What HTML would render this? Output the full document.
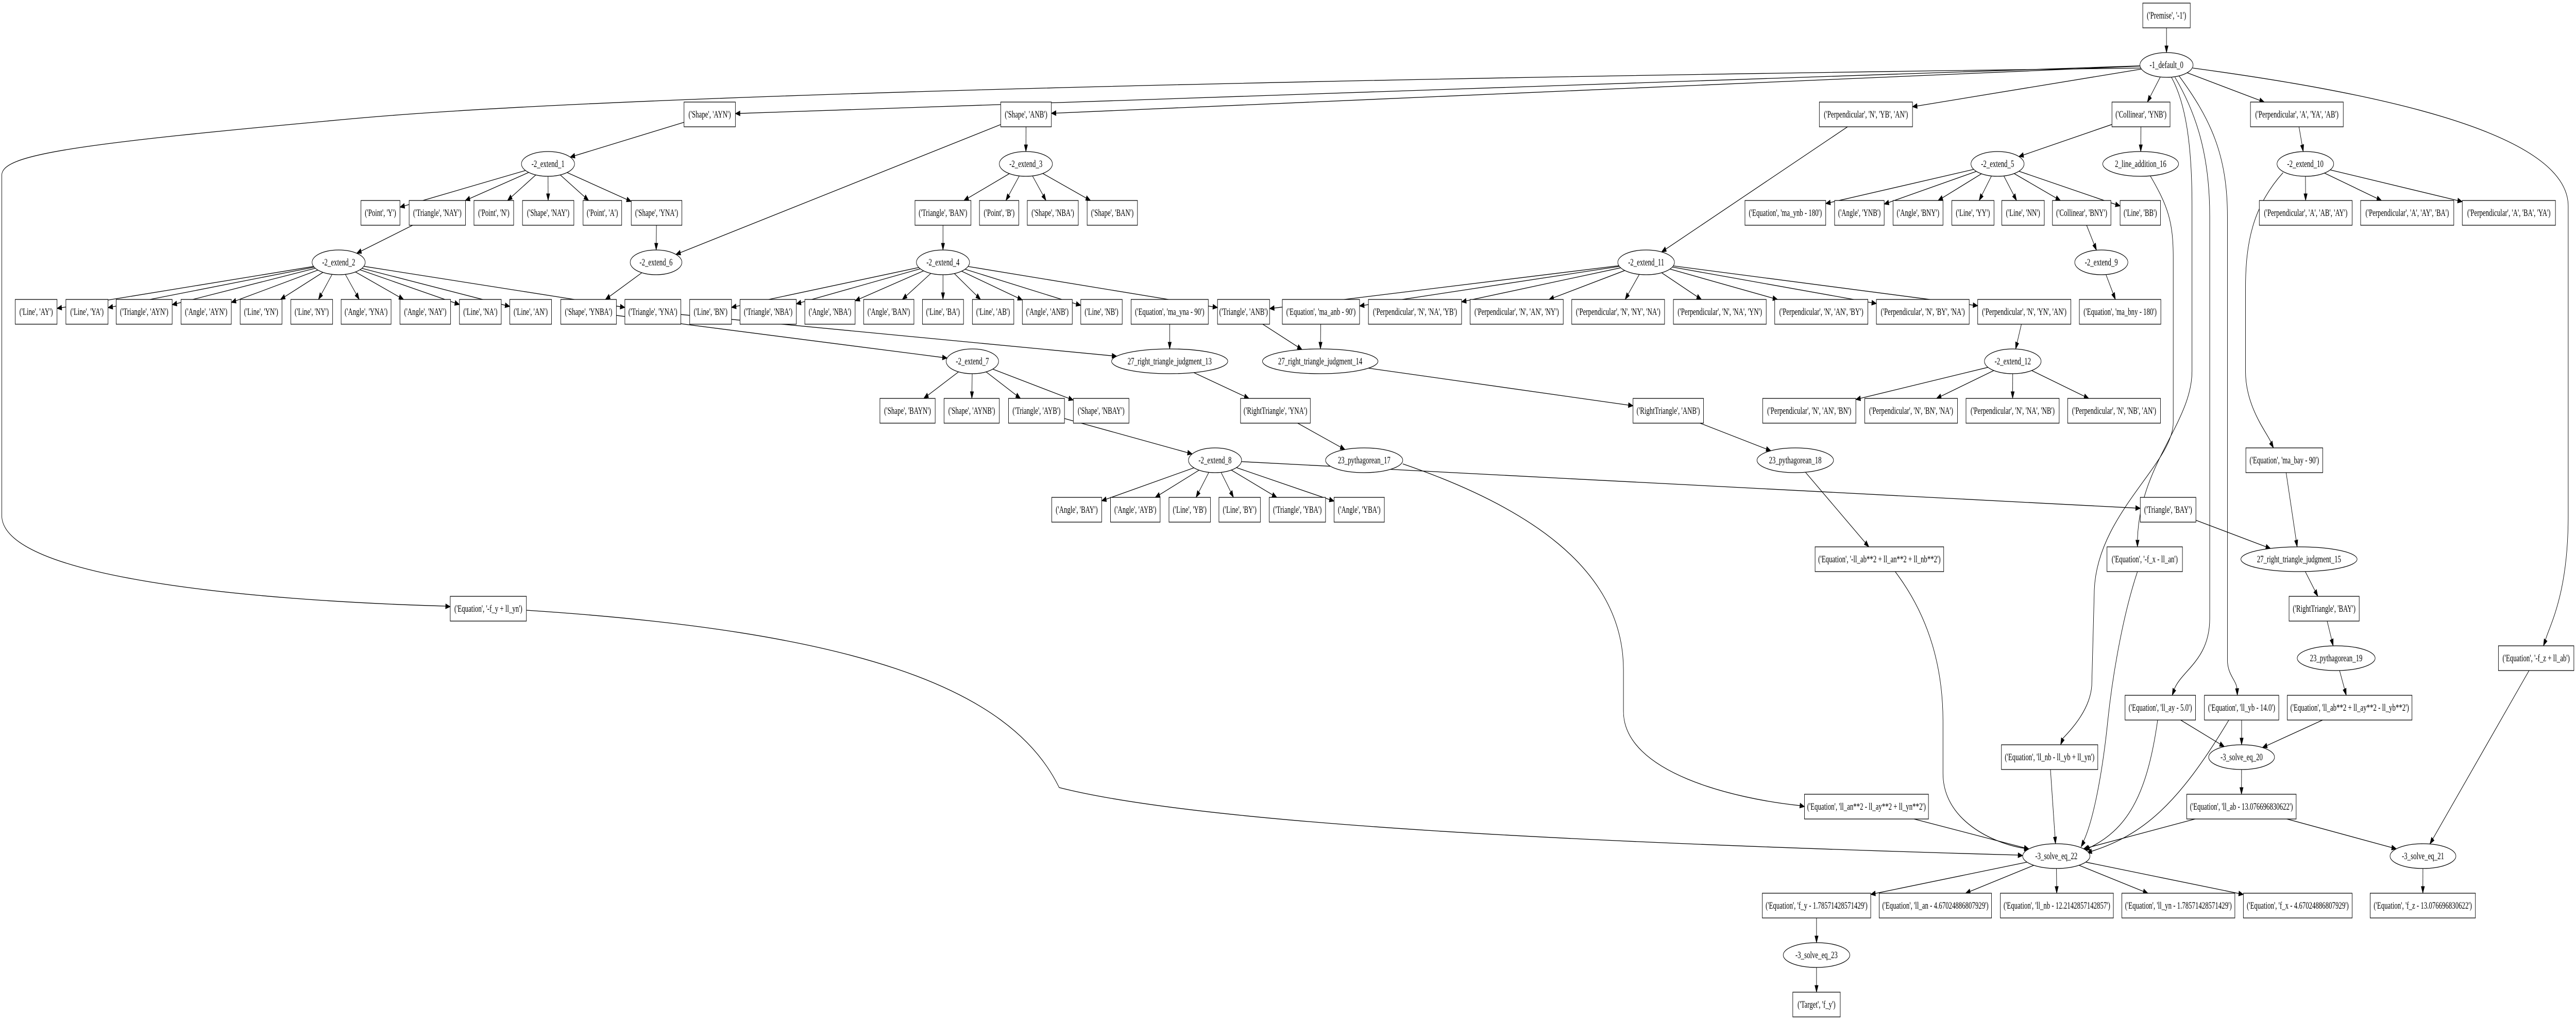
<!DOCTYPE html>
<html><head><meta charset="utf-8"><style>
html,body{margin:0;padding:0;background:#fff;overflow:hidden;width:100vw;height:100vh;}
svg{display:block;width:100vw;height:100vh;}
text{font-family:"Liberation Serif",serif;font-size:18.67px;text-anchor:middle;fill:#000;}
rect,ellipse{fill:#fff;stroke:#000;stroke-width:1.3;}
.e{fill:none;stroke:#000;stroke-width:1.3;}
</style></head><body>
<svg id="s" viewBox="0 0 7272 1979" preserveAspectRatio="none" xmlns="http://www.w3.org/2000/svg">
<rect x="0" y="0" width="7272" height="1979" style="stroke:none"/>
<g id="edges"></g>
<g id="nodes">
<g id="prem"><rect x="6049" y="6" width="134" height="48"/><text x="6116" y="36">('Premise', '-1')</text></g>
<g id="d0"><ellipse cx="6116" cy="126" rx="75" ry="24"/><text x="6116" y="132">-1_default_0</text></g>

<g id="sAYN"><rect x="1931" y="198" width="145" height="48"/><text x="2003.5" y="228">('Shape', 'AYN')</text></g>
<g id="sANB"><rect x="2825" y="198" width="143" height="48"/><text x="2896.5" y="228">('Shape', 'ANB')</text></g>
<g id="pNYBAN"><rect x="5136" y="198" width="263" height="48"/><text x="5267.5" y="228">('Perpendicular', 'N', 'YB', 'AN')</text></g>
<g id="colYNB"><rect x="5962" y="198" width="164" height="48"/><text x="6044" y="228">('Collinear', 'YNB')</text></g>
<g id="pAYAAB"><rect x="6353" y="198" width="262" height="48"/><text x="6484" y="228">('Perpendicular', 'A', 'YA', 'AB')</text></g>

<g id="e1"><ellipse cx="1547" cy="318" rx="75" ry="24"/><text x="1547" y="324">-2_extend_1</text></g>
<g id="e3"><ellipse cx="2896" cy="318" rx="75" ry="24"/><text x="2896" y="324">-2_extend_3</text></g>
<g id="e5"><ellipse cx="5639" cy="318" rx="75" ry="24"/><text x="5639" y="324">-2_extend_5</text></g>
<g id="la16"><ellipse cx="6043" cy="318" rx="107" ry="24"/><text x="6043" y="324">2_line_addition_16</text></g>
<g id="e10"><ellipse cx="6508" cy="318" rx="80" ry="24"/><text x="6508" y="324">-2_extend_10</text></g>

<g id="pY"><rect x="1019" y="389" width="110" height="48"/><text x="1074" y="419">('Point', 'Y')</text></g>
<g id="tNAY"><rect x="1155" y="389" width="159" height="48"/><text x="1234.5" y="419">('Triangle', 'NAY')</text></g>
<g id="pN"><rect x="1338" y="389" width="112" height="48"/><text x="1394" y="419">('Point', 'N')</text></g>
<g id="sNAY"><rect x="1475" y="389" width="145" height="48"/><text x="1547.5" y="419">('Shape', 'NAY')</text></g>
<g id="pA"><rect x="1646" y="389" width="109" height="48"/><text x="1700.5" y="419">('Point', 'A')</text></g>
<g id="sYNA"><rect x="1782" y="389" width="143" height="48"/><text x="1853.5" y="419">('Shape', 'YNA')</text></g>
<g id="tBAN"><rect x="2583" y="389" width="158" height="48"/><text x="2662" y="419">('Triangle', 'BAN')</text></g>
<g id="pB"><rect x="2765" y="389" width="111" height="48"/><text x="2820.5" y="419">('Point', 'B')</text></g>
<g id="sNBA"><rect x="2900" y="389" width="144" height="48"/><text x="2972" y="419">('Shape', 'NBA')</text></g>
<g id="sBAN"><rect x="3069" y="389" width="142" height="48"/><text x="3140" y="419">('Shape', 'BAN')</text></g>
<g id="eqYNB"><rect x="4926" y="389" width="228" height="48"/><text x="5040" y="419">('Equation', 'ma_ynb - 180')</text></g>
<g id="aYNB"><rect x="5179" y="389" width="140" height="48"/><text x="5249" y="419">('Angle', 'YNB')</text></g>
<g id="aBNY"><rect x="5344" y="389" width="141" height="48"/><text x="5414.5" y="419">('Angle', 'BNY')</text></g>
<g id="lYY"><rect x="5510" y="389" width="119" height="48"/><text x="5569.5" y="419">('Line', 'YY')</text></g>
<g id="lNN"><rect x="5651" y="389" width="120" height="48"/><text x="5711" y="419">('Line', 'NN')</text></g>
<g id="cBNY"><rect x="5794" y="389" width="165" height="48"/><text x="5876.5" y="419">('Collinear', 'BNY')</text></g>
<g id="lBB"><rect x="5985" y="389" width="114" height="48"/><text x="6042" y="419">('Line', 'BB')</text></g>
<g id="pAABAY"><rect x="6378" y="389" width="262" height="48"/><text x="6509" y="419">('Perpendicular', 'A', 'AB', 'AY')</text></g>
<g id="pAAYBA"><rect x="6664" y="389" width="263" height="48"/><text x="6795.5" y="419">('Perpendicular', 'A', 'AY', 'BA')</text></g>
<g id="pABAYA"><rect x="6951" y="389" width="263" height="48"/><text x="7082.5" y="419">('Perpendicular', 'A', 'BA', 'YA')</text></g>

<g id="e2"><ellipse cx="956" cy="509" rx="75" ry="24"/><text x="956" y="515">-2_extend_2</text></g>
<g id="e6"><ellipse cx="1852" cy="509" rx="73" ry="24"/><text x="1852" y="515">-2_extend_6</text></g>
<g id="e4"><ellipse cx="2662" cy="509" rx="75" ry="24"/><text x="2662" y="515">-2_extend_4</text></g>
<g id="e11"><ellipse cx="4647" cy="509" rx="80" ry="24"/><text x="4647" y="515">-2_extend_11</text></g>
<g id="e9"><ellipse cx="5932" cy="509" rx="75" ry="24"/><text x="5932" y="515">-2_extend_9</text></g>

<g id="lAY"><rect x="43" y="581" width="118" height="48"/><text x="102" y="611">('Line', 'AY')</text></g>
<g id="lYA"><rect x="186" y="581" width="119" height="48"/><text x="245.5" y="611">('Line', 'YA')</text></g>
<g id="tAYN"><rect x="328" y="581" width="158" height="48"/><text x="407" y="611">('Triangle', 'AYN')</text></g>
<g id="aAYN"><rect x="511" y="581" width="142" height="48"/><text x="582" y="611">('Angle', 'AYN')</text></g>
<g id="lYN"><rect x="678" y="581" width="118" height="48"/><text x="737" y="611">('Line', 'YN')</text></g>
<g id="lNY"><rect x="821" y="581" width="118" height="48"/><text x="880" y="611">('Line', 'NY')</text></g>
<g id="aYNA"><rect x="963" y="581" width="141" height="48"/><text x="1033.5" y="611">('Angle', 'YNA')</text></g>
<g id="aNAY"><rect x="1129" y="581" width="143" height="48"/><text x="1200.5" y="611">('Angle', 'NAY')</text></g>
<g id="lNA"><rect x="1297" y="581" width="118" height="48"/><text x="1356" y="611">('Line', 'NA')</text></g>
<g id="lAN"><rect x="1439" y="581" width="118" height="48"/><text x="1498" y="611">('Line', 'AN')</text></g>
<g id="sYNBA"><rect x="1583" y="581" width="157" height="48"/><text x="1661.5" y="611">('Shape', 'YNBA')</text></g>
<g id="tYNA"><rect x="1764" y="581" width="158" height="48"/><text x="1843" y="611">('Triangle', 'YNA')</text></g>
<g id="lBN"><rect x="1947" y="581" width="118" height="48"/><text x="2006" y="611">('Line', 'BN')</text></g>
<g id="tNBA"><rect x="2089" y="581" width="159" height="48"/><text x="2168.5" y="611">('Triangle', 'NBA')</text></g>
<g id="aNBA"><rect x="2272" y="581" width="142" height="48"/><text x="2343" y="611">('Angle', 'NBA')</text></g>
<g id="aBAN"><rect x="2438" y="581" width="142" height="48"/><text x="2509" y="611">('Angle', 'BAN')</text></g>
<g id="lBA"><rect x="2604" y="581" width="116" height="48"/><text x="2662" y="611">('Line', 'BA')</text></g>
<g id="lAB"><rect x="2745" y="581" width="117" height="48"/><text x="2803.5" y="611">('Line', 'AB')</text></g>
<g id="aANB"><rect x="2886" y="581" width="141" height="48"/><text x="2956.5" y="611">('Angle', 'ANB')</text></g>
<g id="lNB"><rect x="3051" y="581" width="117" height="48"/><text x="3109.5" y="611">('Line', 'NB')</text></g>
<g id="eqYNA"><rect x="3193" y="581" width="218" height="48"/><text x="3302" y="611">('Equation', 'ma_yna - 90')</text></g>
<g id="tANB"><rect x="3437" y="581" width="147" height="48"/><text x="3510.5" y="611">('Triangle', 'ANB')</text></g>
<g id="eqANB"><rect x="3620" y="581" width="218" height="48"/><text x="3729" y="611">('Equation', 'ma_anb - 90')</text></g>
<g id="p1"><rect x="3863" y="581" width="263" height="48"/><text x="3994.5" y="611">('Perpendicular', 'N', 'NA', 'YB')</text></g>
<g id="p2"><rect x="4150" y="581" width="263" height="48"/><text x="4281.5" y="611">('Perpendicular', 'N', 'AN', 'NY')</text></g>
<g id="p3"><rect x="4437" y="581" width="262" height="48"/><text x="4568" y="611">('Perpendicular', 'N', 'NY', 'NA')</text></g>
<g id="p4"><rect x="4724" y="581" width="262" height="48"/><text x="4855" y="611">('Perpendicular', 'N', 'NA', 'YN')</text></g>
<g id="p5"><rect x="5010" y="581" width="263" height="48"/><text x="5141.5" y="611">('Perpendicular', 'N', 'AN', 'BY')</text></g>
<g id="p6"><rect x="5297" y="581" width="262" height="48"/><text x="5428" y="611">('Perpendicular', 'N', 'BY', 'NA')</text></g>
<g id="p7"><rect x="5583" y="581" width="263" height="48"/><text x="5714.5" y="611">('Perpendicular', 'N', 'YN', 'AN')</text></g>
<g id="eqBNY"><rect x="5870" y="581" width="230" height="48"/><text x="5985" y="611">('Equation', 'ma_bny - 180')</text></g>

<g id="e7"><ellipse cx="2745" cy="701" rx="74" ry="24"/><text x="2745" y="707">-2_extend_7</text></g>
<g id="rtj13"><ellipse cx="3302" cy="701" rx="164" ry="24"/><text x="3302" y="707">27_right_triangle_judgment_13</text></g>
<g id="rtj14"><ellipse cx="3727" cy="701" rx="163" ry="24"/><text x="3727" y="707">27_right_triangle_judgment_14</text></g>
<g id="e12"><ellipse cx="5682" cy="701" rx="80" ry="24"/><text x="5682" y="707">-2_extend_12</text></g>

<g id="sBAYN"><rect x="2484" y="773" width="156" height="48"/><text x="2562" y="803">('Shape', 'BAYN')</text></g>
<g id="sAYNB"><rect x="2665" y="773" width="156" height="48"/><text x="2743" y="803">('Shape', 'AYNB')</text></g>
<g id="tAYB"><rect x="2847" y="773" width="158" height="48"/><text x="2926" y="803">('Triangle', 'AYB')</text></g>
<g id="sNBAY"><rect x="3030" y="773" width="157" height="48"/><text x="3108.5" y="803">('Shape', 'NBAY')</text></g>
<g id="rtYNA"><rect x="3502" y="773" width="197" height="48"/><text x="3600.5" y="803">('RightTriangle', 'YNA')</text></g>
<g id="rtANB"><rect x="4610" y="773" width="199" height="48"/><text x="4709.5" y="803">('RightTriangle', 'ANB')</text></g>
<g id="q1"><rect x="4976" y="773" width="263" height="48"/><text x="5107.5" y="803">('Perpendicular', 'N', 'AN', 'BN')</text></g>
<g id="q2"><rect x="5264" y="773" width="262" height="48"/><text x="5395" y="803">('Perpendicular', 'N', 'BN', 'NA')</text></g>
<g id="q3"><rect x="5550" y="773" width="263" height="48"/><text x="5681.5" y="803">('Perpendicular', 'N', 'NA', 'NB')</text></g>
<g id="q4"><rect x="5837" y="773" width="262" height="48"/><text x="5968" y="803">('Perpendicular', 'N', 'NB', 'AN')</text></g>

<g id="e8"><ellipse cx="3430" cy="893" rx="75" ry="24"/><text x="3430" y="899">-2_extend_8</text></g>
<g id="py17"><ellipse cx="3851" cy="893" rx="109" ry="24"/><text x="3851" y="899">23_pythagorean_17</text></g>
<g id="py18"><ellipse cx="5068" cy="893" rx="108" ry="24"/><text x="5068" y="899">23_pythagorean_18</text></g>
<g id="eqBAY"><rect x="6340" y="869" width="217" height="48"/><text x="6448.5" y="899">('Equation', 'ma_bay - 90')</text></g>

<g id="aBAY"><rect x="2969" y="965" width="141" height="48"/><text x="3039.5" y="995">('Angle', 'BAY')</text></g>
<g id="aAYB"><rect x="3135" y="965" width="140" height="48"/><text x="3205" y="995">('Angle', 'AYB')</text></g>
<g id="lYB"><rect x="3300" y="965" width="117" height="48"/><text x="3358.5" y="995">('Line', 'YB')</text></g>
<g id="lBY"><rect x="3441" y="965" width="117" height="48"/><text x="3499.5" y="995">('Line', 'BY')</text></g>
<g id="tYBA"><rect x="3583" y="965" width="159" height="48"/><text x="3662.5" y="995">('Triangle', 'YBA')</text></g>
<g id="aYBA"><rect x="3766" y="965" width="142" height="48"/><text x="3837" y="995">('Angle', 'YBA')</text></g>
<g id="tBAY"><rect x="6042" y="965" width="157" height="48"/><text x="6120.5" y="995">('Triangle', 'BAY')</text></g>

<g id="eqAB2"><rect x="5124" y="1061" width="363" height="48"/><text x="5305.5" y="1091">('Equation', '-ll_ab**2 + ll_an**2 + ll_nb**2')</text></g>
<g id="eqFX"><rect x="5948" y="1061" width="213" height="48"/><text x="6054.5" y="1091">('Equation', '-f_x - ll_an')</text></g>
<g id="rtj15"><ellipse cx="6490" cy="1085" rx="164" ry="24"/><text x="6490" y="1091">27_right_triangle_judgment_15</text></g>

<g id="eqFY"><rect x="1271" y="1157" width="215" height="48"/><text x="1378.5" y="1187">('Equation', '-f_y + ll_yn')</text></g>
<g id="rtBAY"><rect x="6462" y="1157" width="198" height="48"/><text x="6561" y="1187">('RightTriangle', 'BAY')</text></g>

<g id="py19"><ellipse cx="6595" cy="1277" rx="110" ry="24"/><text x="6595" y="1283">23_pythagorean_19</text></g>
<g id="eqFZ"><rect x="7053" y="1253" width="213" height="48"/><text x="7159.5" y="1283">('Equation', '-f_z + ll_ab')</text></g>

<g id="eqAY"><rect x="5999" y="1349" width="199" height="48"/><text x="6098.5" y="1379">('Equation', 'll_ay - 5.0')</text></g>
<g id="eqYB"><rect x="6223" y="1349" width="210" height="48"/><text x="6328" y="1379">('Equation', 'll_yb - 14.0')</text></g>
<g id="eqAB2b"><rect x="6457" y="1349" width="352" height="48"/><text x="6633" y="1379">('Equation', 'll_ab**2 + ll_ay**2 - ll_yb**2')</text></g>

<g id="eqNB"><rect x="5650" y="1445" width="272" height="48"/><text x="5786" y="1475">('Equation', 'll_nb - ll_yb + ll_yn')</text></g>
<g id="sq20"><ellipse cx="6328" cy="1469" rx="93" ry="24"/><text x="6328" y="1475">-3_solve_eq_20</text></g>

<g id="eqAN2"><rect x="5094" y="1541" width="350" height="48"/><text x="5269" y="1571">('Equation', 'll_an**2 - ll_ay**2 + ll_yn**2')</text></g>
<g id="eqABv"><rect x="6173" y="1541" width="309" height="48"/><text x="6327.5" y="1571">('Equation', 'll_ab - 13.076696830622')</text></g>

<g id="sq22"><ellipse cx="5805" cy="1661" rx="95" ry="24"/><text x="5805" y="1667">-3_solve_eq_22</text></g>
<g id="sq21"><ellipse cx="6840" cy="1661" rx="93" ry="24"/><text x="6840" y="1667">-3_solve_eq_21</text></g>

<g id="oFY"><rect x="4975" y="1733" width="306" height="48"/><text x="5128" y="1763">('Equation', 'f_y - 1.78571428571429')</text></g>
<g id="oAN"><rect x="5305" y="1733" width="317" height="48"/><text x="5463.5" y="1763">('Equation', 'll_an - 4.67024886807929')</text></g>
<g id="oNB"><rect x="5647" y="1733" width="319" height="48"/><text x="5806.5" y="1763">('Equation', 'll_nb - 12.2142857142857')</text></g>
<g id="oYN"><rect x="5990" y="1733" width="319" height="48"/><text x="6149.5" y="1763">('Equation', 'll_yn - 1.78571428571429')</text></g>
<g id="oFX"><rect x="6333" y="1733" width="307" height="48"/><text x="6486.5" y="1763">('Equation', 'f_x - 4.67024886807929')</text></g>
<g id="oFZ"><rect x="6691" y="1733" width="297" height="48"/><text x="6839.5" y="1763">('Equation', 'f_z - 13.076696830622')</text></g>

<g id="sq23"><ellipse cx="5128" cy="1853" rx="94" ry="24"/><text x="5128" y="1859">-3_solve_eq_23</text></g>
<g id="tgt"><rect x="5061" y="1925" width="134" height="48"/><text x="5128" y="1955">('Target', 'f_y')</text></g>
</g>
</svg>
<script>
(function(){
var NS="http://www.w3.org/2000/svg",G=document.getElementById("edges");
function node(id){var g=document.getElementById(id),r=g.querySelector("rect"),e=g.querySelector("ellipse");
 if(r){var x=+r.getAttribute("x"),y=+r.getAttribute("y"),w=+r.getAttribute("width"),h=+r.getAttribute("height");return {t:"r",cx:x+w/2,cy:y+h/2,a:w/2,b:h/2};}
 return {t:"e",cx:+e.getAttribute("cx"),cy:+e.getAttribute("cy"),a:+e.getAttribute("rx"),b:+e.getAttribute("ry")};}
function bd(n,dx,dy){var t;if(n.t=="r"){t=Math.min(dx?n.a/Math.abs(dx):1e9,dy?n.b/Math.abs(dy):1e9);}else{t=1/Math.sqrt(dx*dx/(n.a*n.a)+dy*dy/(n.b*n.b));}return [n.cx+dx*t,n.cy+dy*t];}
function arrow(tip,from){var dx=tip[0]-from[0],dy=tip[1]-from[1],L=Math.sqrt(dx*dx+dy*dy)||1;dx/=L;dy/=L;
 var bx=tip[0]-dx*13,by=tip[1]-dy*13,p=document.createElementNS(NS,"polygon");
 p.setAttribute("points",tip[0]+","+tip[1]+" "+(bx-dy*4.7)+","+(by+dx*4.7)+" "+(bx+dy*4.7)+","+(by-dx*4.7));p.setAttribute("fill","#000");p.setAttribute("stroke","#000");G.appendChild(p);}
function line(a,b){var s=node(a),t=node(b),dx=t.cx-s.cx,dy=t.cy-s.cy;var p1=bd(s,dx,dy),p2=bd(t,-dx,-dy);
 var l=document.createElementNS(NS,"path");l.setAttribute("d","M"+p1[0]+","+p1[1]+" L"+p2[0]+","+p2[1]);l.setAttribute("class","e");G.appendChild(l);arrow(p2,p1);}
function path(d,tip,from){var l=document.createElementNS(NS,"path");l.setAttribute("d",d);l.setAttribute("class","e");G.appendChild(l);arrow(tip,from);}
var E=[["prem","d0"],["d0","sAYN"],["d0","sANB"],["d0","pNYBAN"],["d0","colYNB"],["d0","pAYAAB"],
["sAYN","e1"],["tNAY","e2"],["sYNA","e6"],["sANB","e6"],["sANB","e3"],["e6","sYNBA"],["tBAN","e4"],
["sYNBA","e7"],["tYNA","rtj13"],["eqYNA","rtj13"],["rtj13","rtYNA"],["rtYNA","py17"],
["tANB","rtj14"],["eqANB","rtj14"],["rtj14","rtANB"],["rtANB","py18"],["py18","eqAB2"],
["tAYB","e8"],["pNYBAN","e11"],["e11","tANB"],["p7","e12"],["colYNB","e5"],["colYNB","la16"],["cBNY","e9"],["e9","eqBNY"],
["pAYAAB","e10"],["eqBAY","rtj15"],["tBAY","rtj15"],["rtj15","rtBAY"],["rtBAY","py19"],["py19","eqAB2b"],
["eqAY","sq20"],["eqYB","sq20"],["eqAB2b","sq20"],["sq20","eqABv"],["eqABv","sq22"],["eqABv","sq21"],["eqFZ","sq21"],["sq21","oFZ"],
["eqNB","sq22"],["eqAN2","sq22"],["oFY","sq23"],["sq23","tgt"]];
var F={e1:["pY","tNAY","pN","sNAY","pA","sYNA"],e2:["lAY","lYA","tAYN","aAYN","lYN","lNY","aYNA","aNAY","lNA","lAN","tYNA"],
e3:["tBAN","pB","sNBA","sBAN"],e4:["lBN","tNBA","aNBA","aBAN","lBA","lAB","aANB","lNB","tANB"],
e7:["sBAYN","sAYNB","tAYB","sNBAY"],e8:["aBAY","aAYB","lYB","lBY","tYBA","aYBA","tBAY"],
e11:["eqANB","p1","p2","p3","p4","p5","p6","p7"],e12:["q1","q2","q3","q4"],
e5:["eqYNB","aYNB","aBNY","lYY","lNN","cBNY","lBB"],e10:["pAABAY","pAAYBA","pABAYA"],
sq22:["oFY","oAN","oNB","oYN","oFX"]};
for(var k in F)F[k].forEach(function(c){E.push([k,c]);});
E.forEach(function(e){line(e[0],e[1]);});
path("M6043,132 C4000,150 1800,180 1000,230 C200,280 5,300 5,340 L5,1000 C5,1120 700,1165 1258,1176",[1271,1177],[1250,1176]);
path("M6130,150 C6170,200 6188,280 6188,400 L6188,720 C6188,820 6040,900 6034,1047",[6034,1061],[6034,1040]);
path("M6140,150 C6200,220 6238,300 6238,420 L6238,1200 C6238,1280 6160,1300 6138,1337",[6132,1349],[6142,1330]);
path("M6150,146 C6240,230 6288,300 6288,420 L6288,1280 C6288,1310 6314,1320 6315,1337",[6316,1349],[6315,1330]);
path("M6190,132 C6650,175 7250,250 7250,400 L7250,1000 C7250,1150 7200,1210 7186,1241",[7180,1253],[7190,1235]);
path("M6070,341 C6120,400 6135,430 6135,500 L6135,820 C6135,900 5915,1000 5912,1150 L5905,1330 C5900,1380 5840,1420 5823,1433",[5817,1445],[5828,1425]);
path("M6034,1109 C5990,1200 5962,1320 5950,1400 C5935,1500 5910,1590 5882,1632",[5875,1643],[5888,1625]);
path("M6091,1397 C6060,1550 6000,1610 5898,1645",[5886,1650],[5905,1642]);
path("M6292,1397 C6150,1560 6050,1620 5903,1652",[5892,1655],[5910,1650]);
path("M5350,1109 C5450,1200 5485,1300 5485,1400 L5485,1500 C5485,1600 5650,1640 5716,1646",[5728,1648],[5710,1646]);
path("M1486,1184 C2400,1225 2850,1330 2990,1528 C3400,1600 4500,1636 5697,1659",[5710,1660],[5690,1659]);
path("M3960,900 C4300,980 4583,1100 4583,1300 L4583,1380 C4583,1500 4900,1550 5081,1563",[5094,1565],[5075,1562]);
path("M6445,335 C6360,400 6339,470 6339,560 L6339,720 C6339,790 6400,840 6411,858",[6418,869],[6406,852]);
})();
</script>
</body></html>
